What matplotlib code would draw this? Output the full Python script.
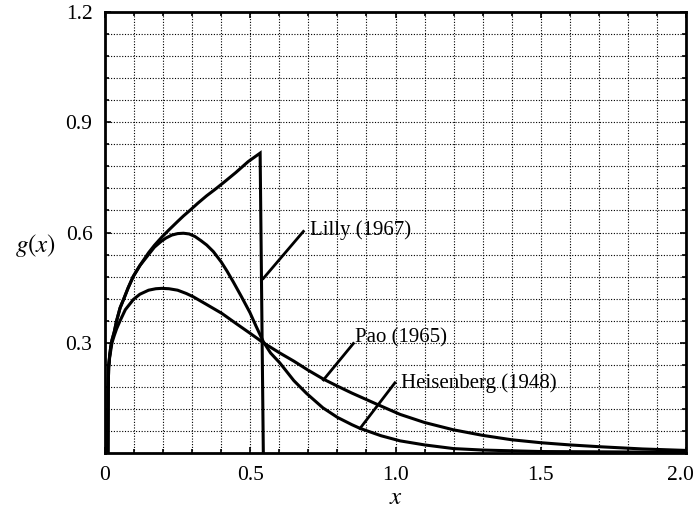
import numpy as np
import matplotlib
matplotlib.use("Agg")
from matplotlib import pyplot as plt
from matplotlib.transforms import ScaledTranslation

#%% values
lilly_x = [0.010, 0.0105, 0.011, 0.0125, 0.016, 0.020, 0.024, 0.032, 0.04, 0.052,
           0.065, 0.08, 0.097, 0.12, 0.15, 0.17, 0.195, 0.22, 0.25, 0.27,
           0.292, 0.32, 0.35, 0.38, 0.41, 0.45, 0.493, 0.534, 0.545]
lilly_y = [0.0, 0.10, 0.17, 0.233, 0.265, 0.29, 0.307, 0.33, 0.36, 0.395,
           0.42, 0.45, 0.48, 0.51, 0.545, 0.565, 0.587, 0.607, 0.63, 0.645,
           0.66, 0.68, 0.70, 0.718, 0.737, 0.763, 0.793, 0.816, 0.0]

heis_x = [0.010, 0.0105, 0.011, 0.0125, 0.016, 0.020, 0.024, 0.032, 0.04, 0.052,
          0.065, 0.08, 0.097, 0.12, 0.15, 0.17, 0.195, 0.21, 0.23, 0.25,
          0.27, 0.29, 0.31, 0.33, 0.35, 0.373, 0.40, 0.42, 0.442, 0.47,
          0.499, 0.52, 0.545, 0.57, 0.602, 0.65, 0.694, 0.75, 0.80, 0.85,
          0.878, 0.95, 1.016, 1.1, 1.2, 1.3, 1.4, 1.5, 1.75, 2.0]
heis_y = [0.0, 0.10, 0.17, 0.233, 0.265, 0.29, 0.307, 0.33, 0.36, 0.395,
          0.42, 0.45, 0.48, 0.51, 0.54, 0.56, 0.577, 0.585, 0.593, 0.597,
          0.598, 0.596, 0.589, 0.578, 0.566, 0.548, 0.52, 0.495, 0.465, 0.425,
          0.382, 0.345, 0.303, 0.272, 0.245, 0.197, 0.162, 0.123, 0.097, 0.077,
          0.067, 0.047, 0.033, 0.022, 0.012, 0.008, 0.006, 0.004, 0.003, 0.002]

pao_x = [0.010, 0.0105, 0.011, 0.0125, 0.016, 0.020, 0.024, 0.032, 0.04, 0.052,
         0.07, 0.098, 0.12, 0.15, 0.175, 0.195, 0.22, 0.25, 0.28, 0.304,
         0.35, 0.402, 0.45, 0.499, 0.545, 0.602, 0.65, 0.70, 0.752, 0.80,
         0.85, 0.935, 1.016, 1.1, 1.2, 1.3, 1.4, 1.5, 1.6, 1.704,
         1.85, 2.0]
pao_y = [0.0, 0.10, 0.17, 0.233, 0.26, 0.28, 0.30, 0.32, 0.338, 0.36,
         0.39, 0.418, 0.432, 0.443, 0.447, 0.448, 0.447, 0.443, 0.434, 0.425,
         0.404, 0.38, 0.353, 0.326, 0.30, 0.272, 0.25, 0.225, 0.201, 0.182,
         0.163, 0.133, 0.105, 0.083, 0.063, 0.048, 0.036, 0.028, 0.022, 0.017,
         0.011, 0.007]

labels = ["Lilly (1967)", "Pao (1965)", "Heisenberg (1948)"]
# leader line: (point on curve) -> (text end)
leader_from = [(0.545, 0.475), (0.752, 0.199), (0.878, 0.067)]
leader_to = [(0.683, 0.603), (0.855, 0.298), (0.998, 0.191)]
label_pos = [(0.705, 0.607), (0.860, 0.313), (1.020, 0.190)]

xticks = [0, 0.5, 1.0, 1.5, 2.0]
xticklabels = ["0", "0.5", "1.0", "1.5", "2.0"]
yticks = [0.3, 0.6, 0.9, 1.2]
yticklabels = ["0.3", "0.6", "0.9", "1.2"]

#%% figure
plt.rcParams['font.family'] = ['Liberation Serif', 'DejaVu Serif']
plt.rcParams['mathtext.fontset'] = 'stix'

fig = plt.figure(figsize=(6.98, 5.17), dpi=100)
ax = fig.add_axes([105/698, 1-453/517, 581/698, 441/517])

lw = 2.2
ax.plot(lilly_x, lilly_y, color="black", lw=lw, solid_joinstyle="miter")
ax.plot(heis_x, heis_y, color="black", lw=lw, solid_joinstyle="round")
ax.plot(pao_x, pao_y, color="black", lw=lw, solid_joinstyle="round")

for (x0, y0), (x1, y1), (tx, ty), lab in zip(leader_from, leader_to, label_pos, labels):
    ax.plot([x0, x1], [y0, y1], color="black", lw=2.0)
    ax.text(tx, ty, lab, fontsize=15, ha="left", va="center")

ax.set_xlim(0, 2.0)
ax.set_ylim(0, 1.2)

ax.set_xticks(xticks)
ax.set_xticklabels(xticklabels)
ax.set_yticks(yticks)
ax.set_yticklabels(yticklabels)
ax.set_xticks(np.arange(0, 2.01, 0.1), minor=True)
ax.set_yticks(np.arange(0, 1.201, 0.06), minor=True)

ax.tick_params(which="both", direction="in", top=True, right=True,
               width=1.2, labelsize=15.5)
ax.tick_params(which="major", length=4)
ax.tick_params(which="minor", length=3)
ax.tick_params(axis="x", pad=9)
ax.tick_params(axis="y", pad=9)

# last x label sits a bit left so it stays inside the picture
lastlab = ax.get_xticklabels()[-1]
lastlab.set_transform(lastlab.get_transform() +
                      ScaledTranslation(-4/72, 0, fig.dpi_scale_trans))

ax.grid(which="both", color="black", linestyle=(0, (1, 1.5)), lw=0.8)
for s in ax.spines.values():
    s.set_linewidth(2.0)

ax.set_xlabel(r"$x$", fontsize=18, labelpad=2)
ax.set_ylabel(r"$g(x)$", fontsize=18, rotation=0, va="center", ha="center")
ax.yaxis.set_label_coords(-0.12, 0.47)

fig.savefig("out.png", dpi=100)
